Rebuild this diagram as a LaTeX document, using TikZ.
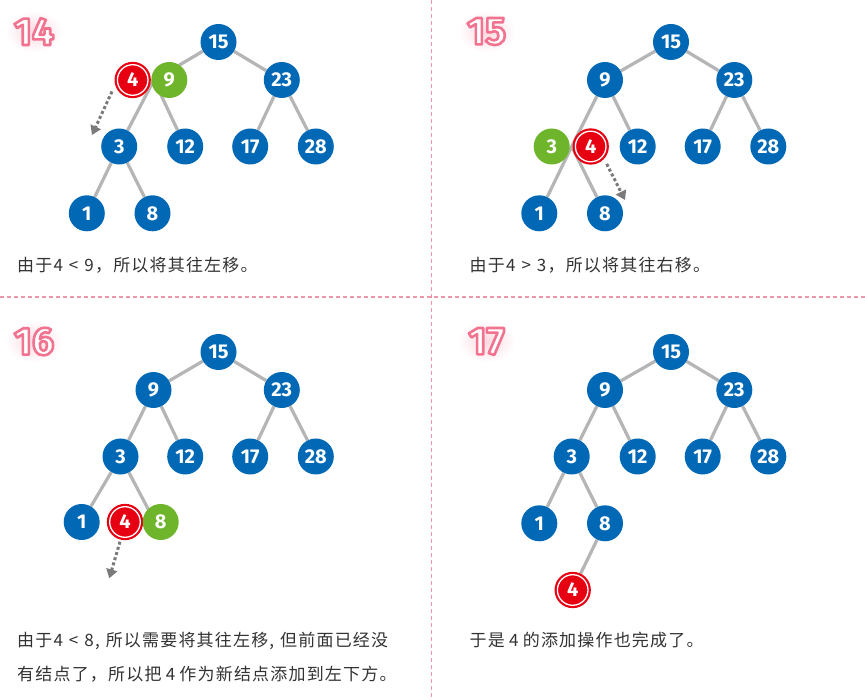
\documentclass[tikz,border=0pt]{standalone}
\usepackage{fontspec}
\usepackage{xcolor}
\usetikzlibrary{arrows.meta, backgrounds}

\newfontfamily\cjkfont{Noto Sans CJK SC}[LetterSpace=7, WordSpace=1.2]
\newfontfamily\keyfont{Fira Sans}

\definecolor{keyblue}{HTML}{0068B5}
\definecolor{keygreen}{HTML}{6FB52C}
\definecolor{keyred}{HTML}{E60012}
\definecolor{edgegray}{HTML}{B5B5B5}
\definecolor{movegray}{HTML}{7A7A7A}
\definecolor{stepglow}{HTML}{FBD9E1}
\definecolor{divpink}{HTML}{EE96AA}
\definecolor{textgray}{HTML}{333333}

% white step number with a pink outline (fill, then stroke)
\newcommand\stepnum[1]{{\color{white}\special{pdf:literal direct 2 Tr 2.6 w 1 j 0.949 0.451 0.565 RG}#1\special{pdf:literal direct 0 Tr}}}

\tikzset{
  heapnode/.style={circle, fill=keyblue, text=white, minimum size=36pt, inner sep=0pt, font=\keyfont\bfseries\fontsize{20}{20}\selectfont},
  heapok/.style={heapnode, fill=keygreen},
  heapnew/.style={heapnode, fill=keyred, minimum size=30.6pt, draw=keyred, line width=2.2pt, double=white, double distance=1.3pt},
  heapedge/.style={draw=edgegray, line width=3.2pt},
  shiftarrow/.style={draw=movegray, line width=3pt, dash pattern=on 3pt off 2.4pt, -{Triangle[length=9pt, width=11pt]}},
  notetext/.style={anchor=west, inner sep=0pt, align=left, text=textgray, font=\cjkfont\fontsize{17}{34}\selectfont},
  stepno/.style={inner sep=0pt, font=\keyfont\bfseries\fontsize{39}{39}\selectfont},
  stephalo/.style={inner color=stepglow, outer color=white},
  divider/.style={draw=divpink, line width=1.3pt, dash pattern=on 4pt off 3pt}
}

\begin{document}
\begin{tikzpicture}[x=1pt, y=-1pt]
  \useasboundingbox (0,0) rectangle (865,700);
  \begin{scope}[on background layer]
    \fill[white] (0,0) rectangle (865,700);
  \end{scope}

  \draw[divider] (0,297) -- (865,297);
  \draw[divider] (431.5,0) -- (431.5,700);

  % 14
  \begin{scope}
    \node[stepno] (s14) at (34,31.5) {\stepnum{14}};
    \node[heapnode] (a15) at (218.5,42) {15};
    \coordinate (a9slot) at (154,80);
    \node[heapnew] (a4) at (132.7,80) {4};
    \node[heapok] (a9) at (169.3,80) {9};
    \node[heapnode] (a23) at (281.8,80) {23};
    \node[heapnode] (a3) at (119.2,146.5) {3};
    \node[heapnode] (a12) at (185.2,146.5) {12};
    \node[heapnode] (a17) at (250.2,146.5) {17};
    \node[heapnode] (a28) at (315.8,146.5) {28};
    \node[heapnode] (a1) at (86.8,213.3) {1};
    \node[heapnode] (a8) at (152.5,213.3) {8};
    \coordinate (a4from) at (112,91.5);
    \coordinate (a4to) at (92,135);
    \draw[shiftarrow] (a4from) -- (a4to);
    \begin{scope}[on background layer]
      \shade[stephalo] (s14) ellipse (29 and 21);
      \draw[heapedge] (a15) -- (a9slot) (a15) -- (a23)
        (a9slot) -- (a3) (a9slot) -- (a12) (a23) -- (a17) (a23) -- (a28)
        (a3) -- (a1) (a3) -- (a8);
    \end{scope}
    \node[notetext] (t14) at (17,265) {由于4 < 9，所以将其往左移。};
  \end{scope}

  % 15
  \begin{scope}[shift={(452.5,0)}]
    \node[stepno] (s15) at (34,31.5) {\stepnum{15}};
    \node[heapnode] (b15) at (218.5,42) {15};
    \node[heapnode] (b9) at (152.5,80) {9};
    \node[heapnode] (b23) at (281.8,80) {23};
    \coordinate (b3slot) at (119.2,146.5);
    \node[heapok] (b3) at (99.2,146.5) {3};
    \node[heapnew] (b4) at (138.2,146.5) {4};
    \node[heapnode] (b12) at (185.2,146.5) {12};
    \node[heapnode] (b17) at (250.2,146.5) {17};
    \node[heapnode] (b28) at (315.8,146.5) {28};
    \node[heapnode] (b1) at (86.8,213.3) {1};
    \node[heapnode] (b8) at (152.5,213.3) {8};
    \coordinate (b4from) at (154.2,164);
    \coordinate (b4to) at (172.5,200);
    \draw[shiftarrow] (b4from) -- (b4to);
    \begin{scope}[on background layer]
      \shade[stephalo] (s15) ellipse (29 and 21);
      \draw[heapedge] (b15) -- (b9) (b15) -- (b23)
        (b9) -- (b3slot) (b9) -- (b12) (b23) -- (b17) (b23) -- (b28)
        (b3slot) -- (b1) (b3slot) -- (b8);
    \end{scope}
    \node[notetext] (t15) at (17,265) {由于4 > 3，所以将其往右移。};
  \end{scope}

  % 16
  \begin{scope}[shift={(0,310)}]
    \node[stepno] (s16) at (34,31.5) {\stepnum{16}};
    \node[heapnode] (c15) at (218.5,42) {15};
    \node[heapnode] (c9) at (153.5,80) {9};
    \node[heapnode] (c23) at (281.8,80) {23};
    \node[heapnode] (c3) at (120.5,146.5) {3};
    \node[heapnode] (c12) at (185.2,146.5) {12};
    \node[heapnode] (c17) at (250.2,146.5) {17};
    \node[heapnode] (c28) at (315.8,146.5) {28};
    \coordinate (c8slot) at (155,212);
    \node[heapnode] (c1) at (81.7,212) {1};
    \node[heapnew] (c4) at (125,212) {4};
    \node[heapok] (c8) at (160.7,212) {8};
    \coordinate (c4from) at (120,231.7);
    \coordinate (c4to) at (109.3,268.3);
    \draw[shiftarrow] (c4from) -- (c4to);
    \begin{scope}[on background layer]
      \shade[stephalo] (s16) ellipse (29 and 21);
      \draw[heapedge] (c15) -- (c9) (c15) -- (c23)
        (c9) -- (c3) (c9) -- (c12) (c23) -- (c17) (c23) -- (c28)
        (c3) -- (c1) (c3) -- (c8slot);
    \end{scope}
    \node[notetext] (t16) at (17,347.5) {由于4 < 8, 所以需要将其往左移, 但前面已经没\\有结点了，所以把\hspace{.25em}4\hspace{.25em}作为新结点添加到左下方。};
  \end{scope}

  % 17
  \begin{scope}[shift={(452.5,310)}]
    \node[stepno] (s17) at (34,31.5) {\stepnum{17}};
    \node[heapnode] (d15) at (218.5,42) {15};
    \node[heapnode] (d9) at (152.5,80) {9};
    \node[heapnode] (d23) at (281.8,80) {23};
    \node[heapnode] (d3) at (119.2,146.5) {3};
    \node[heapnode] (d12) at (185.2,146.5) {12};
    \node[heapnode] (d17) at (250.2,146.5) {17};
    \node[heapnode] (d28) at (315.8,146.5) {28};
    \node[heapnode] (d1) at (86.8,213.3) {1};
    \node[heapnode] (d8) at (152.5,213.3) {8};
    \node[heapnew] (d4) at (120.2,280) {4};
    \begin{scope}[on background layer]
      \shade[stephalo] (s17) ellipse (29 and 21);
      \draw[heapedge] (d15) -- (d9) (d15) -- (d23)
        (d9) -- (d3) (d9) -- (d12) (d23) -- (d17) (d23) -- (d28)
        (d3) -- (d1) (d3) -- (d8) (d8) -- (d4);
    \end{scope}
    \node[notetext] (t17) at (17,330.3) {于是\hspace{.25em}4\hspace{.25em}的添加操作也完成了。};
  \end{scope}
\end{tikzpicture}
\end{document}
